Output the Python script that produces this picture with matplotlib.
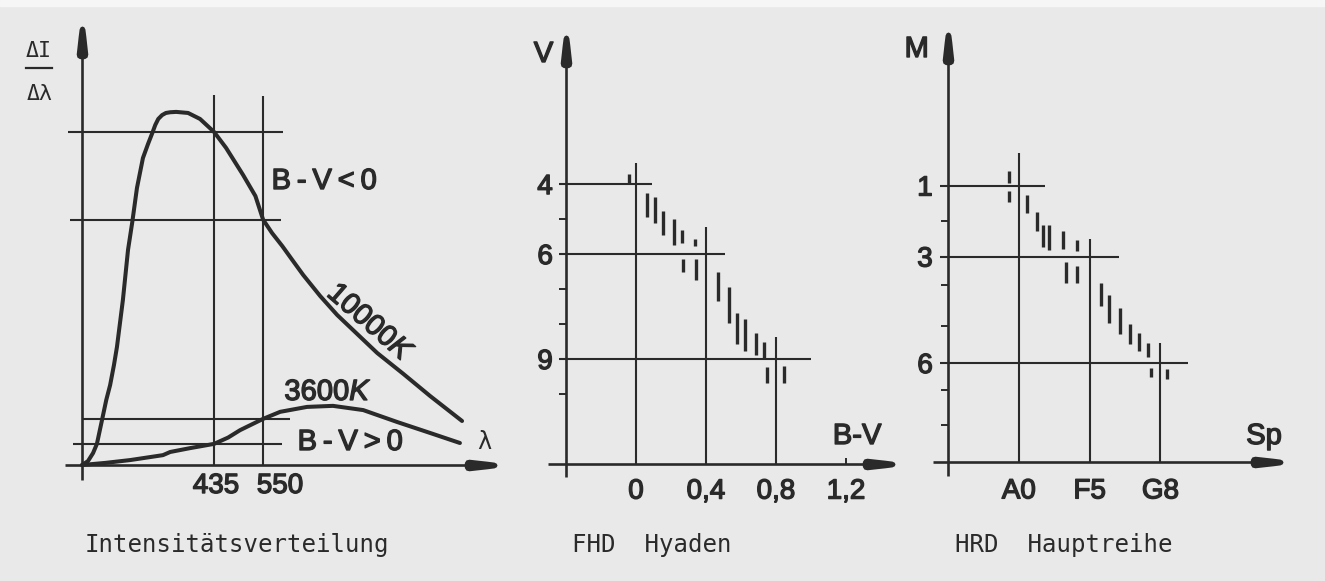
import numpy as np
import matplotlib
matplotlib.use("Agg")
import matplotlib.pyplot as plt
from matplotlib.path import Path
from matplotlib.lines import Line2D
from matplotlib.patches import Rectangle
import matplotlib.patheffects as pe

# ====================== DATA ======================
# Panel 1 - Intensitaetsverteilung (wavelength in nm, relative intensity)
lam_10000 = [125, 139, 151, 160, 172, 182, 191, 200, 207, 221, 233, 243, 254, 268, 280,
             290, 297, 304, 313, 322, 332, 346, 374, 402, 435, 463, 503, 532, 550, 571,
             595, 620, 644, 684, 724, 771, 818, 879, 942, 1017]
I_10000 = [0, 1.1, 3.4, 6.0, 12.8, 18.5, 22.7, 28.4, 33.5, 46.9, 61.1, 69.0, 78.7, 87.2, 91.2,
           94.3, 96.6, 98.3, 99.4, 100.0, 100.2, 100.3, 100.0, 98.3, 94.6, 90.1, 82.4, 76.4,
           69.7, 65.9, 62.2, 58.0, 54.0, 48.0, 42.6, 37.2, 31.8, 25.9, 19.6, 12.5]
lam_3600 = [125, 180, 238, 315, 332, 379, 435, 468, 496, 550, 590, 653, 714, 785, 865, 942, 1012]
I_3600 = [0, 0.6, 1.4, 2.8, 3.7, 4.8, 6.0, 7.8, 9.9, 13.1, 15.1, 16.5, 16.8, 15.6, 12.2, 9.1, 6.25]

guide_I = [94.6, 69.7, 13.1, 6.0]
guide_I_start = [92, 97, 125, 104]
guide_I_end = [597, 592, 613, 595]
guide_lam = [435, 550]
guide_lam_top = [105.0, 104.7]
lam_ticks = [435, 550]
lam_ticklabels = ["435", "550"]

# Panel 2 - FHD Hyaden (B-V, V)
bv_ticks = [0, 0.4, 0.8, 1.2]
bv_ticklabels = ["0", "0,4", "0,8", "1,2"]
V_ticks = [4, 5, 6, 7, 8, 9, 10]
V_ticklabels = ["4", "", "6", "", "", "9", ""]
V_guides = [4, 6, 9]
V_guide_end = [0.09, 0.51, 1.0]
bv_guides = [0, 0.4, 0.8]
bv_guide_top = [3.39, 5.23, 8.37]
hy_bv = [-0.04, 0.061, 0.109, 0.156, 0.215, 0.263, 0.269, 0.335, 0.343, 0.467,
         0.531, 0.579, 0.625, 0.687, 0.733, 0.747, 0.847]
hy_V_top = [3.72, 4.25, 4.36, 4.76, 5.01, 5.31, 6.14, 5.56, 6.15, 6.51,
            6.95, 7.68, 7.87, 8.25, 8.51, 9.22, 9.19]
hy_V_bot = [3.98, 4.95, 5.12, 5.46, 5.75, 5.69, 6.52, 5.77, 6.74, 7.35,
            7.98, 8.57, 8.77, 8.89, 8.98, 9.69, 9.69]

# Panel 3 - HRD Hauptreihe (spectral type, M)
sp_ticks = [0, 1, 2]
sp_ticklabels = ["A0", "F5", "G8"]
M_ticks = [1, 2, 3, 3.8, 4.95, 6, 6.75, 7.75]
M_ticklabels = ["1", "", "3", "", "", "6", "", ""]
M_guides = [1, 3, 6]
M_guide_end = [0.375, 1.41, 2.39]
sp_guides = [0, 1, 2]
sp_guide_top = [0.09, 2.51, 5.45]
ms_sp = [-0.137, -0.137, 0.109, 0.25, 0.335, 0.428, 0.626, 0.664, 0.823, 0.823,
         1.158, 1.275, 1.427, 1.568, 1.695, 1.822, 1.864, 2.086]
ms_M_top = [0.59, 1.15, 1.27, 1.74, 2.11, 2.11, 2.27, 3.15, 2.54, 3.26,
            3.74, 4.08, 4.46, 4.91, 5.16, 5.44, 6.15, 6.18]
ms_M_bot = [0.94, 1.46, 1.78, 2.27, 2.72, 2.82, 2.79, 3.75, 2.84, 3.75,
            4.39, 4.88, 5.18, 5.46, 5.66, 5.83, 6.40, 6.46]

# ====================== STYLE ======================
C = "#2a2a2a"
BG = "#e9e9e9"
SANS = ["Liberation Sans", "DejaVu Sans"]
MONO = ["DejaVu Sans Mono", "DejaVu Sans"]
plt.rcParams["font.family"] = SANS
plt.rcParams["mathtext.fontset"] = "custom"
plt.rcParams["mathtext.rm"] = "Liberation Sans"
plt.rcParams["mathtext.it"] = "Liberation Sans:italic"
PE = [pe.withStroke(linewidth=1.0, foreground=C)]

W, H = 1325, 581
fig = plt.figure(figsize=(W / 100, H / 100), dpi=100)
fig.patch.set_facecolor(BG)
fig.add_artist(Rectangle((0, 1 - 6 / H), 1, 6 / H, transform=fig.transFigure,
                         color="#f6f6f6", zorder=-10))


def add_axes_px(left, top, right, bottom):
    ax = fig.add_axes([left / W, 1 - bottom / H, (right - left) / W, (bottom - top) / H])
    ax.set_facecolor("none")
    for s in ax.spines.values():
        s.set_visible(False)
    return ax


def ftext(xpx, ypx, s, **kw):
    kw.setdefault("color", C)
    return fig.text(xpx / W, 1 - ypx / H, s, **kw)


UP = [(0, 0), (1.8, -0.8), (2.9, -3), (3.8, -10), (4.9, -20), (5.8, -28), (5.1, -31),
      (2.8, -32.5), (0, -33), (-2.8, -32.5), (-5.1, -31), (-5.8, -28), (-4.9, -20),
      (-3.8, -10), (-2.9, -3), (-1.8, -0.8), (0, 0)]


def arrowhead(ax, x, y, direction):
    v = np.array(UP, dtype=float)
    if direction == "right":
        v = np.column_stack([v[:, 1], -v[:, 0]])
    path = Path(v, closed=True)
    ms = 2 * np.max(np.abs(v)) * 0.72
    ax.plot([x], [y], marker=path, ms=ms, mew=0, mfc=C, ls="none",
            clip_on=False, zorder=6)


LW_AX = 1.9
LW_GUIDE = 1.5
LW_CURVE = 2.9
LW_BAR = 2.4

# ====================== PANEL 1 ======================
ax1 = add_axes_px(82, 26, 497, 465)
ax1.set_xlim(125, 1099)
ax1.set_ylim(0, 124.7)
ax1.plot([125, 125], [-4.3, 120], color=C, lw=LW_AX, clip_on=False, solid_capstyle="butt")
ax1.plot([85, 1090], [0, 0], color=C, lw=LW_AX, clip_on=False, solid_capstyle="butt")
arrowhead(ax1, 125, 124.7, "up")
arrowhead(ax1, 1099, 0, "right")
ax1.hlines(guide_I, guide_I_start, guide_I_end, color=C, lw=LW_GUIDE, clip_on=False)
ax1.vlines(guide_lam, 0, guide_lam_top, color=C, lw=LW_GUIDE, clip_on=False)
ax1.plot(lam_10000, I_10000, color=C, lw=LW_CURVE, solid_joinstyle="round",
         solid_capstyle="round", clip_on=False, zorder=4)
ax1.plot(lam_3600, I_3600, color=C, lw=LW_CURVE, solid_joinstyle="round",
         solid_capstyle="round", clip_on=False, zorder=4)
ax1.set_xticks([])
ax1.set_yticks([])
for val, lab, dx in zip(lam_ticks, lam_ticklabels, [2, 17]):
    ax1.annotate(lab, xy=(val, 0), xytext=(dx * 0.72, -28 * 0.72),
                 textcoords="offset points", ha="center", va="baseline",
                 fontsize=20, color=C, path_effects=PE, annotation_clip=False)

ftext(39, 57, "ΔI", family=MONO, fontsize=15.5, ha="center", va="baseline")
fig.add_artist(Line2D([26 / W, 52 / W], [1 - 68 / H, 1 - 68 / H], color=C, lw=1.6))
ftext(40, 100, "Δλ", family=MONO, fontsize=15.5, ha="center", va="baseline")
ftext(324, 189, "B\u2009-\u2009V\u2009<\u20090", fontsize=21, ha="center", va="baseline",
      path_effects=PE)
ftext(370, 323, "10000$K$", fontsize=21, ha="center", va="center", rotation=-41,
      rotation_mode="anchor", path_effects=PE)
ftext(328, 400, "3600$K$", fontsize=21, ha="center", va="baseline", path_effects=PE)
ftext(350, 450, "B\u2009-\u2009V\u2009>\u20090", fontsize=21, ha="center", va="baseline",
      path_effects=PE)
ftext(484, 449, "λ", family=MONO, fontsize=17, ha="center", va="baseline")
ftext(85, 552, "Intensitätsverteilung", family=MONO, fontsize=17.3, ha="left",
      va="baseline")

# ====================== PANEL 2 ======================
ax2 = add_axes_px(566, 35, 895, 464)
ax2.set_xlim(-0.4, 1.48)
ax2.set_ylim(12, -0.26)
ax2.plot([-0.4, -0.4], [12.37, 0.3], color=C, lw=LW_AX, clip_on=False, solid_capstyle="butt")
ax2.plot([-0.503, 1.40], [12, 12], color=C, lw=LW_AX, clip_on=False, solid_capstyle="butt")
arrowhead(ax2, -0.4, -0.26, "up")
arrowhead(ax2, 1.48, 12, "right")
ax2.hlines(V_guides, -0.44, V_guide_end, color=C, lw=LW_GUIDE, clip_on=False)
ax2.vlines(bv_guides, 12, bv_guide_top, color=C, lw=LW_GUIDE, clip_on=False)
ax2.vlines(hy_bv, hy_V_top, hy_V_bot, color=C, lw=LW_BAR, clip_on=False, zorder=4)
ax2.set_xticks(bv_ticks, bv_ticklabels)
ax2.set_yticks(V_ticks, V_ticklabels)
ax2.tick_params(axis="x", direction="in", length=4, width=1.4, color=C, pad=10.5,
                labelsize=20, labelcolor=C)
ax2.tick_params(axis="y", direction="out", length=5, width=1.4, color=C, pad=4.5,
                labelsize=20, labelcolor=C)
for lab in ax2.get_xticklabels() + ax2.get_yticklabels():
    lab.set_path_effects(PE)
ftext(543.5, 62, "V", fontsize=21, ha="center", va="baseline", path_effects=PE)
ftext(857, 444, "B-V", fontsize=21, ha="center", va="baseline", path_effects=PE)
ftext(571.7, 552, "FHD  Hyaden", family=MONO, fontsize=17.3, ha="left", va="baseline")

# ====================== PANEL 3 ======================
ax3 = add_axes_px(948, 31.5, 1283, 462.4)
ax3.set_xlim(-1, 3.73)
ax3.set_ylim(8.8, -3.34)
ax3.plot([-1, -1], [9.17, -2.8], color=C, lw=LW_AX, clip_on=False, solid_capstyle="butt")
ax3.plot([-1.21, 3.6], [8.8, 8.8], color=C, lw=LW_AX, clip_on=False, solid_capstyle="butt")
arrowhead(ax3, -1, -3.34, "up")
arrowhead(ax3, 3.73, 8.8, "right")
ax3.hlines(M_guides, -1.12, M_guide_end, color=C, lw=LW_GUIDE, clip_on=False)
ax3.vlines(sp_guides, 8.8, sp_guide_top, color=C, lw=LW_GUIDE, clip_on=False)
ax3.vlines(ms_sp, ms_M_top, ms_M_bot, color=C, lw=LW_BAR, clip_on=False, zorder=4)
ax3.set_xticks(sp_ticks, sp_ticklabels)
ax3.set_yticks(M_ticks, M_ticklabels)
ax3.tick_params(axis="x", direction="in", length=0, pad=11.5, labelsize=20, labelcolor=C)
ax3.tick_params(axis="y", direction="out", length=5, width=1.4, color=C, pad=6,
                labelsize=20, labelcolor=C)
for lab in ax3.get_xticklabels() + ax3.get_yticklabels():
    lab.set_path_effects(PE)
ftext(916.7, 57, "M", fontsize=21, ha="center", va="baseline", path_effects=PE)
ftext(1264, 444, "Sp", fontsize=21, ha="center", va="baseline", path_effects=PE)
ftext(955, 552, "HRD  Hauptreihe", family=MONO, fontsize=17.3, ha="left", va="baseline")

fig.savefig("out.png", dpi=100, facecolor=fig.get_facecolor())
